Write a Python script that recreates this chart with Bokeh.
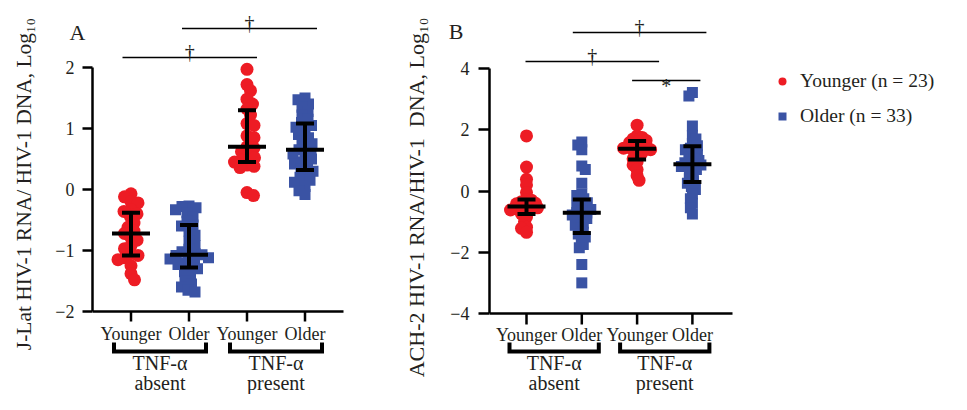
from bokeh.plotting import figure
from bokeh.layouts import row
from bokeh.models import FixedTicker, Label, Legend, LegendItem
from bokeh.core.properties import value
from bokeh.embed import file_html
from bokeh.resources import INLINE

# ---------------- data ----------------
tick_labels = ["Younger", "Older", "Younger", "Older"]
condition_top = ["TNF-α", "TNF-α"]
condition_bottom = ["absent", "present"]
legend_labels = ["Younger (n = 23)", "Older (n = 33)"]

# Panel A: J-Lat
a_young_absent = [-0.07, -0.12, -0.20, -0.22, -0.33, -0.36, -0.40, -0.45, -0.55, -0.62, -0.68, -0.72,
                  -0.78, -0.83, -0.92, -0.97, -1.05, -1.08, -1.12, -1.15, -1.25, -1.38, -1.48]
a_old_absent = [-0.27, -0.28, -0.30, -0.33, -0.38, -0.45, -0.52, -0.58, -0.60, -0.68, -0.75, -0.85,
                -0.92, -0.98, -1.02, -1.05, -1.07, -1.08, -1.10, -1.12, -1.14, -1.17, -1.20, -1.23,
                -1.28, -1.30, -1.35, -1.42, -1.50, -1.55, -1.60, -1.65, -1.68]
a_young_present = [1.97, 1.72, 1.62, 1.48, 1.40, 1.32, 1.22, 1.08, 1.05, 0.88, 0.85, 0.70,
                   0.68, 0.62, 0.55, 0.52, 0.48, 0.45, 0.40, 0.38, 0.36, -0.05, -0.10]
a_old_present = [1.50, 1.47, 1.40, 1.35, 1.28, 1.22, 1.15, 1.10, 1.05, 1.02, 0.95, 0.90, 0.85,
                 0.80, 0.75, 0.70, 0.65, 0.62, 0.58, 0.55, 0.50, 0.45, 0.42, 0.38, 0.33, 0.30,
                 0.25, 0.20, 0.15, 0.12, 0.05, -0.02, -0.08]
a_median = [-0.72, -1.07, 0.70, 0.65]
a_upper = [-0.38, -0.58, 1.30, 1.08]
a_lower = [-1.08, -1.28, 0.45, 0.32]
a_sig = [(1, 3, "†"), (2, 4, "†")]

# Panel B: ACH-2
b_young_absent = [1.80, 0.78, 0.38, 0.20, -0.05, -0.28, -0.30, -0.35, -0.40, -0.42, -0.47, -0.50,
                  -0.52, -0.55, -0.58, -0.62, -0.68, -0.75, -0.85, -1.00, -1.18, -1.22, -1.35]
b_old_absent = [1.60, 1.50, 1.35, 0.82, 0.70, 0.25, -0.10, -0.15, -0.25, -0.30, -0.38, -0.45,
                -0.50, -0.55, -0.60, -0.65, -0.70, -0.72, -0.78, -0.85, -0.90, -0.98, -1.05,
                -1.12, -1.20, -1.35, -1.40, -1.50, -1.60, -1.75, -1.85, -2.40, -3.00]
b_young_present = [2.15, 1.80, 1.75, 1.70, 1.65, 1.62, 1.58, 1.52, 1.48, 1.45, 1.42, 1.40,
                   1.38, 1.35, 1.30, 1.25, 1.15, 1.05, 0.95, 0.85, 0.70, 0.50, 0.35]
b_old_present = [3.22, 3.10, 2.12, 1.82, 1.70, 1.55, 1.48, 1.40, 1.35, 1.25, 1.18, 1.12, 1.05,
                 1.00, 0.95, 0.92, 0.88, 0.85, 0.80, 0.75, 0.70, 0.60, 0.50, 0.40, 0.30, 0.25,
                 0.15, 0.05, -0.10, -0.25, -0.40, -0.55, -0.75]
b_median = [-0.51, -0.71, 1.38, 0.87]
b_upper = [-0.28, -0.28, 1.63, 1.46]
b_lower = [-0.75, -1.37, 1.03, 0.29]
b_sig = [(1, 3, "†"), (2, 4, "†"), (3, 4, "*")]

# ---------------- style ----------------
FONT = "Liberation Serif"
RED = "#ed1c24"
BLUE = "#3a53a4"
TXT = "#231f20"
H = 394


def swarm(vals, xc, xppu, yppu, d):
    placed = []
    out = [0.0] * len(vals)
    order = sorted(range(len(vals)), key=lambda i: -vals[i])
    for n, i in enumerate(order):
        py = vals[i] * yppu
        sign = 1 if n % 2 == 0 else -1
        k = 0
        while True:
            cands = [0.0] if k == 0 else [sign * k * 0.5, -sign * k * 0.5]
            ok = None
            for ox in cands:
                if all((ox - qx) ** 2 + (py - qy) ** 2 >= d * d for qx, qy in placed):
                    ok = ox
                    break
            if ok is not None:
                break
            k += 1
        placed.append((ok, py))
        out[i] = xc + ok / xppu
    return out


def make_panel(cfg, groups, med, up, lo, sig, letter, ylabel, ticks):
    fw = cfg["fig_width"] - cfg["frame_left"] - cfg["frame_right_border"]
    xppu, yppu = cfg["xppu"], cfg["yppu"]
    x0 = 1 - cfg["x1_px"] / xppu
    x1 = x0 + fw / xppu
    y1 = cfg["ytop"] + cfg["ytop_px"] / yppu
    y0 = y1 - H / yppu
    p = figure(width=cfg["fig_width"], height=H, x_range=(x0, x1), y_range=(y0, y1),
               output_backend="svg", toolbar_location=None, x_axis_location=None,
               min_border_left=cfg["frame_left"], min_border_right=cfg["frame_right_border"],
               min_border_top=0, min_border_bottom=0)
    p.grid.visible = False
    p.outline_line_color = None
    p.background_fill_color = None

    ax = p.yaxis[0]
    ax.bounds = (ticks[0], ticks[-1])
    ax.ticker = FixedTicker(ticks=ticks)
    ax.minor_tick_line_color = None
    ax.major_tick_out = cfg["tick_len"]
    ax.major_tick_in = 0
    ax.axis_line_width = 2.5
    ax.major_tick_line_width = 2.5
    ax.axis_line_color = "black"
    ax.major_tick_line_color = "black"
    ax.major_label_overrides = {t: (("\u2212" + str(-t)) if t < 0 else str(t)) for t in ticks}
    ax.major_label_text_font = FONT
    ax.major_label_text_font_size = "18px"
    ax.major_label_text_color = TXT
    ax.major_label_standoff = cfg["label_standoff"]
    ax.axis_label = ylabel
    ax.axis_label_text_font = FONT
    ax.axis_label_text_font_style = "normal"
    ax.axis_label_text_font_size = cfg["ylabel_size"]
    ax.axis_label_text_color = TXT
    ax.axis_label_standoff = cfg["axis_label_standoff"]

    ybase = ticks[0]
    xs = [1, 2, 3, 4]
    dy = lambda px: px / yppu
    dx = lambda px: px / xppu

    # points
    yx, yy, ox, oy = [], [], [], []
    for gi, vals in enumerate(groups):
        sx = swarm(vals, xs[gi], xppu, yppu, cfg["swarm_d"])
        if gi % 2 == 0:
            yx += sx; yy += list(vals)
        else:
            ox += sx; oy += list(vals)
    ry = p.scatter(yx, yy, marker="circle", size=13, fill_color=RED, line_color=None)
    ro = p.scatter(ox, oy, marker="square", size=11, fill_color=BLUE, line_color=None)

    # median / error bars
    p.segment(x0=[x - dx(19) for x in xs], x1=[x + dx(19) for x in xs], y0=med, y1=med,
              line_color="black", line_width=4)
    p.segment(x0=xs, x1=xs, y0=lo, y1=up, line_color="black", line_width=4)
    p.segment(x0=[x - dx(9) for x in xs], x1=[x + dx(9) for x in xs], y0=up, y1=up,
              line_color="black", line_width=4)
    p.segment(x0=[x - dx(9) for x in xs], x1=[x + dx(9) for x in xs], y0=lo, y1=lo,
              line_color="black", line_width=4)

    # x axis (drawn within the frame)
    p.segment(x0=[x0], x1=[x0 + dx(cfg["xaxis_len"])], y0=[ybase], y1=[ybase],
              line_color="black", line_width=2.5)
    p.segment(x0=xs, x1=xs, y0=[ybase] * 4, y1=[ybase - dy(cfg["tick_len"])] * 4,
              line_color="black", line_width=2.5)
    p.text(x=xs, y=[ybase - dy(cfg["cat_px"])] * 4, text=tick_labels,
           text_font=value(FONT), text_font_size="18px", text_color=TXT,
           text_align="center", text_baseline="middle")
    # brackets
    b_top, b_bot = cfg["bracket_px"]
    bx, by = [], []
    for a, b in [(1, 2), (3, 4)]:
        bx.append([a - dx(17), a - dx(17), b + dx(17), b + dx(17)])
        by.append([ybase - dy(b_top), ybase - dy(b_bot), ybase - dy(b_bot), ybase - dy(b_top)])
    p.multi_line(bx, by, line_color="black", line_width=4, line_join="miter")
    p.text(x=[1.5, 3.5], y=[ybase - dy(cfg["cond1_px"])] * 2, text=condition_top,
           text_font=value(FONT), text_font_size="20px", text_color=TXT,
           text_align="center", text_baseline="bottom")
    p.text(x=[1.5, 3.5], y=[ybase - dy(cfg["cond2_px"])] * 2, text=condition_bottom,
           text_font=value(FONT), text_font_size="20px", text_color=TXT,
           text_align="center", text_baseline="bottom")

    # significance lines
    lx0, lx1, ly, sxm, sym, syy = [], [], [], [], [], []
    for (a, b, s), (lvl_px, lp, rp) in zip(sig, cfg["sig_layout"]):
        yv = cfg["ytop"] + dy(lvl_px)
        xa, xb = a + dx(lp), b + dx(rp)
        lx0.append(xa); lx1.append(xb); ly.append(yv)
        sxm.append((xa + xb) / 2); sym.append(s)
        syy.append(yv + dy(6 if s == "†" else -5))
    p.segment(x0=lx0, x1=lx1, y0=ly, y1=ly, line_color="black", line_width=1.5)
    p.text(x=sxm, y=syy, text=sym, text_font=value(FONT), text_font_size="20px",
           text_color=TXT, text_align="center", text_baseline="alphabetic")

    # panel letter: lives in the right side panel (so it is not clipped), placed in data units
    lpx, lpy = cfg["letter_px"]
    p.add_layout(Label(x=1 + (lpx - cfg["frame_left"] - cfg["x1_px"]) / xppu,
                       y=cfg["ytop"] + (cfg["ytop_px"] - lpy) / yppu,
                       text=letter, text_font=FONT, text_font_size="22px", text_color=TXT,
                       text_align="center", text_baseline="middle"), "right")
    return p, ry, ro


NB = "\u00a0"
cfgA = dict(fig_width=400, frame_left=92, frame_right_border=40, xppu=58.0, yppu=61.0,
            x1_px=38.5, ytop=2, ytop_px=67, ylabel_size="21.5px",
            tick_len=10, label_standoff=8, axis_label_standoff=16, xaxis_len=251, swarm_d=7.0,
            cat_px=22, bracket_px=(31, 40), cond1_px=62, cond2_px=82,
            sig_layout=[(10, -8.5, 10), (39, -7, 12)],
            letter_px=(77, 31.5))
cfgB = dict(fig_width=551, frame_left=89, frame_right_border=16, xppu=55.3, yppu=30.625,
            x1_px=37, ytop=4, ytop_px=68, ylabel_size="22px",
            tick_len=11, label_standoff=9, axis_label_standoff=18, xaxis_len=243, swarm_d=5.0,
            cat_px=21, bracket_px=(29, 38), cond1_px=60, cond2_px=80,
            sig_layout=[(7, -1, 22), (36, -9, 14), (-12, -5, 8)],
            letter_px=(455.5 - 400, 30.5))

pA, _, _ = make_panel(cfgA, [a_young_absent, a_old_absent, a_young_present, a_old_present],
                      a_median, a_upper, a_lower, a_sig, "A",
                      NB * 5 + "J-Lat HIV-1 RNA/ HIV-1 DNA, Log\u2081\u2080", [-2, -1, 0, 1, 2])
pB, ry, ro = make_panel(cfgB, [b_young_absent, b_old_absent, b_young_present, b_old_present],
                        b_median, b_upper, b_lower, b_sig, "B",
                        "ACH-2 HIV-1 RNA/HIV-1" + NB + " DNA, Log\u2081\u2080", [-4, -2, 0, 2, 4])

legend = Legend(items=[LegendItem(label=legend_labels[0], renderers=[ry]),
                       LegendItem(label=legend_labels[1], renderers=[ro])],
                location=(283, 267), border_line_color=None, background_fill_alpha=0,
                label_text_font=FONT, label_text_font_size="19.5px", label_text_color=TXT,
                glyph_width=20, glyph_height=20, label_height=20, spacing=13,
                padding=0, margin=0, label_standoff=8)
pB.add_layout(legend)

layout = row(pA, pB)
open("out.html", "w").write(file_html(layout, INLINE))
